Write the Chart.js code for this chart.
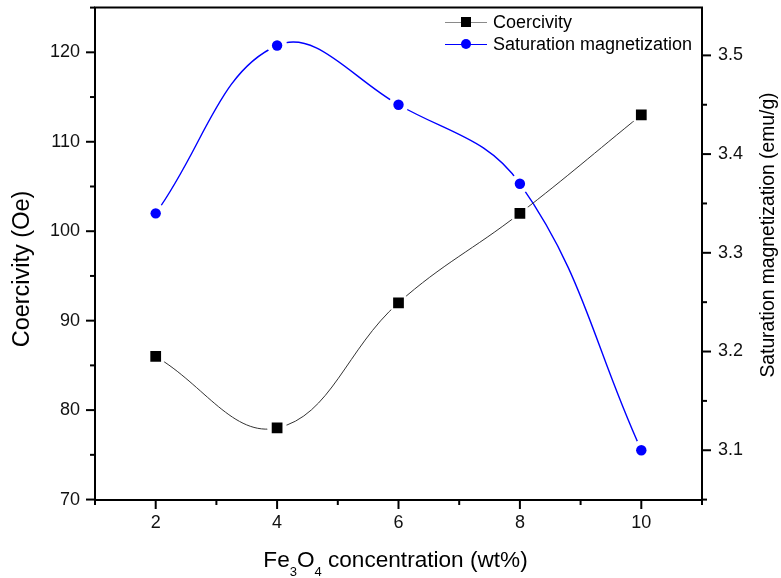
<!DOCTYPE html>
<html>
<head>
<meta charset="utf-8">
<script src="https://cdn.jsdelivr.net/npm/chart.js@4"></script>
<style>
html,body{margin:0;padding:0;background:#fff;}
canvas{display:block;}
</style>
</head>
<body>
<canvas id="c" width="781" height="578"></canvas>
<script>
// ---- data ----
const concentrations = [2, 4, 6, 8, 10];
const coercivity = [86, 78, 92, 102, 113];
const saturation = [3.34, 3.51, 3.45, 3.37, 3.10];
const seriesNames = ['Coercivity', 'Saturation magnetization'];

const xTicks = [2, 4, 6, 8, 10];
const xMinorTicks = [1, 3, 5, 7, 9, 11];
const leftTicks = [70, 80, 90, 100, 110, 120];
const leftMinorTicks = [75, 85, 95, 105, 115, 125];
const rightTicks = [3.1, 3.2, 3.3, 3.4, 3.5];
const rightMinorTicks = [3.05, 3.15, 3.25, 3.35, 3.45, 3.55];

const xTitle = ['Fe', '3', 'O', '4', ' concentration (wt%)'];
const leftTitle = 'Coercivity (Oe)';
const rightTitle = 'Saturation magnetization (emu/g)';

// ---- styles ----
const FONT = "'Liberation Sans', Arial, sans-serif";
const BLACK = '#000000';
const BLUE = '#0000ff';

const pts = (ys) => concentrations.map((x, i) => ({x: x, y: ys[i]}));

const markerDatasets = [
  {label: seriesNames[0], data: pts(coercivity), yAxisID: 'y', showLine: false,
   pointStyle: 'rect', pointRadius: 7.6, pointHoverRadius: 7.6,
   backgroundColor: BLACK, borderColor: BLACK, borderWidth: 0},
  {label: seriesNames[1], data: pts(saturation), yAxisID: 'y1', showLine: false,
   pointStyle: 'circle', pointRadius: 5.2, pointHoverRadius: 5.2,
   backgroundColor: BLUE, borderColor: BLUE, borderWidth: 0}
];
const lineDatasets = [
  {label: seriesNames[0] + ' line', data: pts(coercivity), yAxisID: 'y', showLine: true,
   pointRadius: 0, borderColor: '#333333', borderWidth: 1, tension: 0.4, fill: false},
  {label: seriesNames[1] + ' line', data: pts(saturation), yAxisID: 'y1', showLine: true,
   pointRadius: 0, borderColor: BLUE, borderWidth: 1.4, tension: 0.4, fill: false}
];

// gap around markers for line datasets
const gapPlugin = {
  id: 'gaps',
  beforeDatasetDraw(chart, args) {
    const idx = args.index;
    if (idx < 2) return;
    const mMeta = chart.getDatasetMeta(idx - 2);
    const ctx = chart.ctx;
    ctx.save();
    ctx.beginPath();
    ctx.rect(0, 0, chart.width, chart.height);
    mMeta.data.forEach(p => {
      ctx.moveTo(p.x + 10, p.y);
      ctx.arc(p.x, p.y, 10, 0, Math.PI * 2);
    });
    ctx.clip('evenodd');
  },
  afterDatasetDraw(chart, args) {
    if (args.index < 2) return;
    chart.ctx.restore();
  }
};

const framePlugin = {
  id: 'frame',
  afterDraw(chart) {
    const ctx = chart.ctx;
    const a = chart.chartArea;
    const sx = chart.scales.x, sy = chart.scales.y, sy1 = chart.scales.y1;
    ctx.save();
    ctx.strokeStyle = BLACK;
    ctx.lineWidth = 2;
    // top frame
    ctx.beginPath();
    ctx.moveTo(a.left - 1, a.top);
    ctx.lineTo(a.right + 1, a.top);
    ctx.stroke();
    const tick = (x1, y1, x2, y2) => { ctx.beginPath(); ctx.moveTo(x1, y1); ctx.lineTo(x2, y2); ctx.stroke(); };
    xTicks.forEach(v => { const x = sx.getPixelForValue(v); tick(x, a.bottom, x, a.bottom + 9); });
    xMinorTicks.forEach(v => { const x = sx.getPixelForValue(v); tick(x, a.bottom, x, a.bottom + 5); });
    leftTicks.forEach(v => { const y = sy.getPixelForValue(v); tick(a.left, y, a.left - 9, y); });
    leftMinorTicks.forEach(v => { const y = sy.getPixelForValue(v); if (y >= a.top - 1) tick(a.left, y, a.left - 5, y); });
    rightTicks.forEach(v => { const y = sy1.getPixelForValue(v); tick(a.right, y, a.right + 9, y); });
    rightMinorTicks.forEach(v => { const y = sy1.getPixelForValue(v); if (y >= a.top - 1 && y <= a.bottom + 1) tick(a.right, y, a.right + 5, y); });

    // axis titles
    ctx.fillStyle = BLACK;
    ctx.textBaseline = 'middle';
    // left title
    ctx.save();
    ctx.font = '23.5px ' + FONT;
    ctx.translate(22.5, 269);
    ctx.rotate(-Math.PI / 2);
    ctx.textAlign = 'center';
    ctx.fillText(leftTitle, 0, 0);
    ctx.restore();
    // right title
    ctx.save();
    ctx.font = '19.3px ' + FONT;
    ctx.translate(769, 235);
    ctx.rotate(-Math.PI / 2);
    ctx.textAlign = 'center';
    ctx.fillText(rightTitle, 0, 0);
    ctx.restore();
    // x title with subscripts
    ctx.save();
    ctx.textAlign = 'left';
    ctx.textBaseline = 'alphabetic';
    const big = '22.6px ' + FONT, small = '13px ' + FONT;
    const parts = xTitle.map((t, i) => ({t, sub: i === 1 || i === 3}));
    let total = 0;
    parts.forEach(p => { ctx.font = p.sub ? small : big; p.w = ctx.measureText(p.t).width; total += p.w; });
    let x = 395.5 - total / 2;
    const base = 566.5;
    parts.forEach(p => {
      ctx.font = p.sub ? small : big;
      ctx.fillText(p.t, x, p.sub ? base + 9 : base);
      x += p.w;
    });
    ctx.restore();

    // legend
    const rows = [
      {name: seriesNames[0], line: '#8a8a8a', color: BLACK, style: 'rect'},
      {name: seriesNames[1], line: BLUE, color: BLUE, style: 'circle'}
    ];
    ctx.font = '18px ' + FONT;
    ctx.textAlign = 'left';
    ctx.textBaseline = 'middle';
    rows.forEach((r, i) => {
      const y = 22 + i * 22;
      ctx.strokeStyle = r.line;
      ctx.lineWidth = 1;
      ctx.beginPath();
      ctx.moveTo(445, y + 0.5);
      ctx.lineTo(487, y + 0.5);
      ctx.stroke();
      ctx.fillStyle = r.color;
      if (r.style === 'rect') {
        ctx.fillRect(466 - 5, y - 5, 10, 10);
      } else {
        ctx.beginPath();
        ctx.arc(466, y, 5, 0, Math.PI * 2);
        ctx.fill();
      }
      ctx.fillStyle = BLACK;
      ctx.fillText(r.name, 493, y + 1);
    });
    ctx.restore();
  }
};

const tickFont = {family: FONT, size: 18};
const noPadY = s => { s.paddingTop = 0; s.paddingBottom = 0; };
const noPadX = s => { s.paddingLeft = 0; s.paddingRight = 0; };

new Chart(document.getElementById('c'), {
  type: 'scatter',
  data: {datasets: [...markerDatasets, ...lineDatasets]},
  options: {
    responsive: false,
    animation: false,
    events: [],
    layout: {padding: {top: 5, left: 0, right: 0, bottom: 0}},
    plugins: {legend: {display: false}, tooltip: {enabled: false}},
    scales: {
      x: {
        type: 'linear', position: 'bottom', min: 1, max: 11,
        grid: {display: false, drawTicks: false},
        border: {display: true, color: BLACK, width: 2},
        afterBuildTicks: s => { s.ticks = xTicks.map(v => ({value: v})); },
        ticks: {font: tickFont, color: '#111', padding: 12, maxRotation: 0,
                callback: v => String(v)},
        afterFit: s => { s.height = 78; noPadX(s); }
      },
      y: {
        type: 'linear', position: 'left', min: 69.95, max: 125,
        grid: {display: false, drawTicks: false},
        border: {display: true, color: BLACK, width: 2},
        afterBuildTicks: s => { s.ticks = leftTicks.map(v => ({value: v})); },
        ticks: {font: tickFont, color: '#111', padding: 15, callback: v => String(v)},
        afterFit: s => { s.width = 95; noPadY(s); }
      },
      y1: {
        type: 'linear', position: 'right', min: 3.0496, max: 3.5484,
        grid: {display: false, drawTicks: false},
        border: {display: true, color: BLACK, width: 2},
        afterBuildTicks: s => { s.ticks = rightTicks.map(v => ({value: v})); },
        ticks: {font: tickFont, color: '#111', padding: 16, callback: v => Number(v).toFixed(1)},
        afterFit: s => { s.width = 79; noPadY(s); }
      }
    }
  },
  plugins: [gapPlugin, framePlugin]
});
</script>
</body>
</html>
